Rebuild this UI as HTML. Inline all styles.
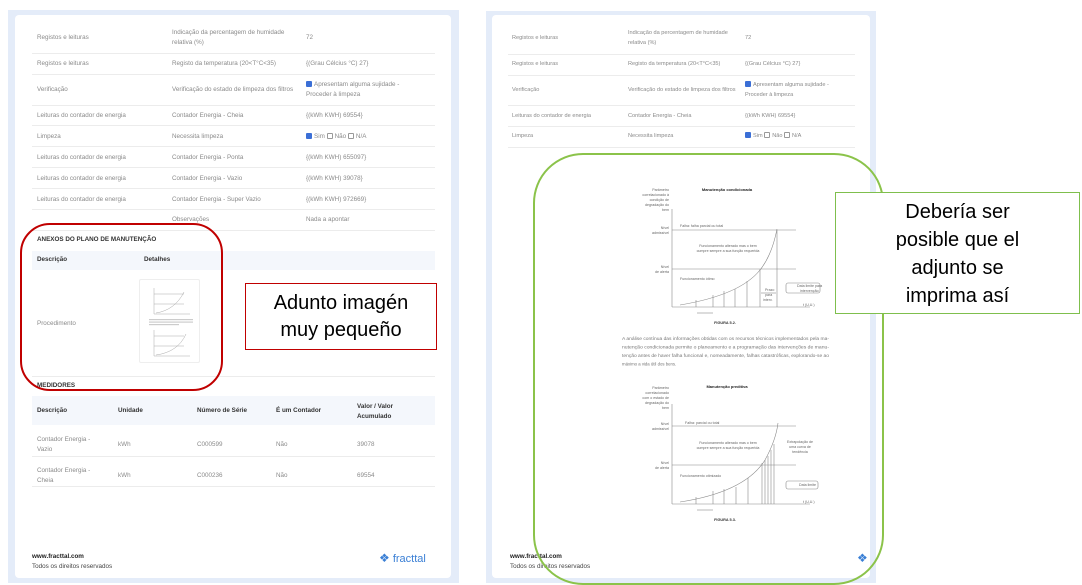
<!DOCTYPE html>
<html><head><meta charset="utf-8"><style>
*{margin:0;padding:0;box-sizing:border-box}
body{width:1082px;height:585px;background:#fff;position:relative;overflow:hidden;font-family:"Liberation Sans",Arial,sans-serif}
.abs{position:absolute}
.outer{position:absolute;background:#e4ecf9}
.inner{position:absolute;background:#fff;border-radius:4px}
.t{position:absolute;font-size:6.3px;color:#8a8a8a;line-height:9.5px;white-space:nowrap}
.r .t{font-size:5.6px}
.hr{position:absolute;height:1px;background:#ececec}
.b{position:absolute;font-size:6.3px;color:#333;font-weight:bold;white-space:nowrap}
.cb{display:inline-block;width:6px;height:6px;border:1px solid #999;vertical-align:-1px;margin-right:2px;border-radius:1px}
.cb.on{background:#3b6fd6;border-color:#3b6fd6}
</style></head><body>

<!-- LEFT PANEL -->
<div class="outer" style="left:8px;top:10px;width:451px;height:573px"></div>
<div class="inner" style="left:15px;top:15px;width:436px;height:563px"></div>

<div class="t" style="left:37px;top:33px">Registos e leituras</div>
<div class="t" style="left:172px;top:28px">Indicação da percentagem de humidade<br>relativa (%)</div>
<div class="t" style="left:306px;top:33px">72</div>
<div class="hr" style="left:32px;top:53px;width:403px"></div>
<div class="t" style="left:37px;top:59px">Registos e leituras</div>
<div class="t" style="left:172px;top:59px">Registo da temperatura (20&lt;T°C&lt;35)</div>
<div class="t" style="left:306px;top:59px">{(Grau Célcius °C) 27}</div>
<div class="hr" style="left:32px;top:74px;width:403px"></div>
<div class="t" style="left:37px;top:85px">Verificação</div>
<div class="t" style="left:172px;top:85px">Verificação do estado de limpeza dos filtros</div>
<div class="t" style="left:306px;top:80px"><span class="cb on"></span>Apresentam alguma sujidade -<br>Proceder à limpeza</div>
<div class="hr" style="left:32px;top:105px;width:403px"></div>
<div class="t" style="left:37px;top:111px">Leituras do contador de energia</div>
<div class="t" style="left:172px;top:111px">Contador Energia - Cheia</div>
<div class="t" style="left:306px;top:111px">{(kWh KWH) 69554}</div>
<div class="hr" style="left:32px;top:125px;width:403px"></div>
<div class="t" style="left:37px;top:132px">Limpeza</div>
<div class="t" style="left:172px;top:132px">Necessita limpeza</div>
<div class="t" style="left:306px;top:132px"><span class="cb on"></span>Sim <span class="cb"></span>Não <span class="cb"></span>N/A</div>
<div class="hr" style="left:32px;top:146px;width:403px"></div>
<div class="t" style="left:37px;top:153px">Leituras do contador de energia</div>
<div class="t" style="left:172px;top:153px">Contador Energia - Ponta</div>
<div class="t" style="left:306px;top:153px">{(kWh KWH) 655097}</div>
<div class="hr" style="left:32px;top:167px;width:403px"></div>
<div class="t" style="left:37px;top:174px">Leituras do contador de energia</div>
<div class="t" style="left:172px;top:174px">Contador Energia - Vazio</div>
<div class="t" style="left:306px;top:174px">{(kWh KWH) 39078}</div>
<div class="hr" style="left:32px;top:188px;width:403px"></div>
<div class="t" style="left:37px;top:195px">Leituras do contador de energia</div>
<div class="t" style="left:172px;top:195px">Contador Energia - Super Vazio</div>
<div class="t" style="left:306px;top:195px">{(kWh KWH) 972669}</div>
<div class="hr" style="left:32px;top:209px;width:403px"></div>
<div class="t" style="left:172px;top:215px">Observações</div>
<div class="t" style="left:306px;top:215px">Nada a apontar</div>
<div class="hr" style="left:32px;top:230px;width:403px"></div>

<div class="b" style="left:37px;top:236px">ANEXOS DO PLANO DE MANUTENÇÃO</div>
<div class="abs" style="left:32px;top:251px;width:403px;height:19px;background:#f4f7fc"></div>
<div class="b" style="left:37px;top:256px">Descrição</div>
<div class="b" style="left:144px;top:256px">Detalhes</div>
<div class="t" style="left:37px;top:319px">Procedimento</div>
<div class="abs" style="left:139px;top:279px;width:61px;height:84px;border:1px solid #eee;border-radius:2px;background:#fff">
<svg width="61" height="84" viewBox="0 0 61 84"><g stroke="#aaa" stroke-width="0.5" fill="none">
<line x1="14" y1="8" x2="14" y2="34"/><line x1="14" y1="34" x2="50" y2="34"/><path d="M16 33 Q35 30 44 12"/><line x1="14" y1="14" x2="44" y2="14"/><line x1="14" y1="24" x2="44" y2="24"/>
<line x1="14" y1="50" x2="14" y2="76"/><line x1="14" y1="76" x2="50" y2="76"/><path d="M16 75 Q38 72 46 54"/><line x1="14" y1="56" x2="44" y2="56"/><line x1="14" y1="66" x2="44" y2="66"/>
</g><g fill="#ccc"><rect x="9" y="39" width="44" height="1.2"/><rect x="9" y="41.5" width="44" height="1.2"/><rect x="9" y="44" width="30" height="1.2"/></g></svg></div>
<div class="hr" style="left:32px;top:376px;width:403px"></div>

<div class="b" style="left:37px;top:382px">MEDIDORES</div>
<div class="abs" style="left:32px;top:396px;width:403px;height:29px;background:#f4f7fc"></div>
<div class="b" style="left:37px;top:407px">Descrição</div>
<div class="b" style="left:118px;top:407px">Unidade</div>
<div class="b" style="left:197px;top:407px">Número de Série</div>
<div class="b" style="left:276px;top:407px">É um Contador</div>
<div class="b" style="left:357px;top:402px;line-height:9.5px">Valor / Valor<br>Acumulado</div>
<div class="t" style="left:37px;top:435px">Contador Energia -<br>Vazio</div>
<div class="t" style="left:118px;top:440px">kWh</div>
<div class="t" style="left:197px;top:440px">C000599</div>
<div class="t" style="left:276px;top:440px">Não</div>
<div class="t" style="left:357px;top:440px">39078</div>
<div class="hr" style="left:32px;top:456px;width:403px"></div>
<div class="t" style="left:37px;top:466px">Contador Energia -<br>Cheia</div>
<div class="t" style="left:118px;top:471px">kWh</div>
<div class="t" style="left:197px;top:471px">C000236</div>
<div class="t" style="left:276px;top:471px">Não</div>
<div class="t" style="left:357px;top:471px">69554</div>
<div class="hr" style="left:32px;top:486px;width:403px"></div>

<div class="b" style="left:32px;top:553px;color:#222">www.fracttal.com</div>
<div class="t" style="left:32px;top:562px;color:#444">Todos os direitos reservados</div>
<div class="abs" style="left:379px;top:551px;font-size:11px;color:#3a7fd5;white-space:nowrap"><span style="font-size:12px">❖</span> fracttal</div>

<!-- red annotations -->
<div class="abs" style="left:20px;top:223px;width:203px;height:168px;border:2px solid #c00000;border-radius:30px"></div>
<div class="abs" style="left:245px;top:283px;width:192px;height:67px;border:1px solid #c00000;background:#fff;font-family:'Liberation Sans',sans-serif;font-size:20px;line-height:27px;text-align:center;padding-top:6px;color:#000">Adunto imagén<br>muy pequeño</div>

<!-- RIGHT PANEL -->
<div class="outer" style="left:486px;top:11px;width:390px;height:572px"></div>
<div class="inner" style="left:492px;top:15px;width:378px;height:563px"></div>

<div class="r">
<div class="t" style="left:512px;top:34px">Registos e leituras</div>
<div class="t" style="left:628px;top:29px">Indicação da percentagem de humidade<br>relativa (%)</div>
<div class="t" style="left:745px;top:34px">72</div>
<div class="hr" style="left:508px;top:54px;width:347px"></div>
<div class="t" style="left:512px;top:60px">Registos e leituras</div>
<div class="t" style="left:628px;top:60px">Registo da temperatura (20&lt;T°C&lt;35)</div>
<div class="t" style="left:745px;top:60px">{(Grau Célcius °C) 27}</div>
<div class="hr" style="left:508px;top:75px;width:347px"></div>
<div class="t" style="left:512px;top:86px">Verificação</div>
<div class="t" style="left:628px;top:86px">Verificação do estado de limpeza dos filtros</div>
<div class="t" style="left:745px;top:81px"><span class="cb on"></span>Apresentam alguma sujidade -<br>Proceder à limpeza</div>
<div class="hr" style="left:508px;top:105px;width:347px"></div>
<div class="t" style="left:512px;top:112px">Leituras do contador de energia</div>
<div class="t" style="left:628px;top:112px">Contador Energia - Cheia</div>
<div class="t" style="left:745px;top:112px">{(kWh KWH) 69554}</div>
<div class="hr" style="left:508px;top:126px;width:347px"></div>
<div class="t" style="left:512px;top:132px">Limpeza</div>
<div class="t" style="left:628px;top:132px">Necessita limpeza</div>
<div class="t" style="left:745px;top:132px"><span class="cb on"></span>Sim <span class="cb"></span>Não <span class="cb"></span>N/A</div>
<div class="hr" style="left:508px;top:147px;width:347px"></div>
</div>

<svg class="abs" style="left:0;top:0" width="1082" height="585" viewBox="0 0 1082 585">
<g font-family="Liberation Sans, sans-serif" fill="#666" font-size="3.6">
<!-- chart 1 -->
<text x="727" y="191" text-anchor="middle" font-weight="bold" fill="#222" font-size="4">Manutenção condicionada</text>
<text x="669" y="191" text-anchor="end">Parâmetro</text><text x="669" y="196" text-anchor="end">correlacionado à</text><text x="669" y="201" text-anchor="end">condição de</text><text x="669" y="206" text-anchor="end">degradação do</text><text x="669" y="211" text-anchor="end">bem</text>
<text x="669" y="229" text-anchor="end">Nível</text><text x="669" y="234" text-anchor="end">admissível</text>
<text x="669" y="268" text-anchor="end">Nível</text><text x="669" y="273" text-anchor="end">de alerta</text>
<text x="680" y="227">Falha: falha parcial ou total</text>
<text x="728" y="247" text-anchor="middle">Funcionamento alterado mas o bem</text><text x="728" y="252" text-anchor="middle">cumpre sempre a sua função requerida</text>
<text x="680" y="280">Funcionamento ótimo</text>
<text x="803" y="306">t (U.U.)</text>
<text x="797" y="287">Data limite para</text><text x="800" y="292">intervenção</text>
<text x="765" y="291">Prazo</text><text x="765" y="296">para</text><text x="763" y="301">interv.</text>
<text x="725" y="324" text-anchor="middle" font-weight="bold" fill="#333" font-size="3.8">FIGURA 5.2.</text>
<g stroke="#888" stroke-width="0.6" fill="none">
<line x1="672" y1="209" x2="672" y2="307"/><line x1="672" y1="307" x2="810" y2="307"/>
<line x1="672" y1="230" x2="796" y2="230"/><line x1="672" y1="269" x2="796" y2="269"/>
<path d="M680 305 Q740 295 760 270 Q772 255 777 229"/>
<line x1="696" y1="300" x2="696" y2="307"/><line x1="713" y1="295" x2="713" y2="307"/><line x1="724" y1="291" x2="724" y2="307"/><line x1="735" y1="289" x2="735" y2="307"/><line x1="747" y1="281" x2="747" y2="307"/><line x1="760" y1="269" x2="760" y2="307"/><line x1="777" y1="230" x2="777" y2="307"/>
<line x1="697" y1="313" x2="713" y2="313"/><line x1="761" y1="293" x2="776" y2="293"/>
<rect x="786" y="283" width="34" height="10" rx="2"/>
</g>
<!-- paragraph -->
<g font-size="4.3" fill="#777">
<text x="622" y="340" textLength="207" lengthAdjust="spacingAndGlyphs">A análise contínua das informações obtidas com os recursos técnicos implementados pela ma-</text>
<text x="622" y="348.5" textLength="207" lengthAdjust="spacingAndGlyphs">nutenção condicionada permite o planeamento e a programação das intervenções de manu-</text>
<text x="622" y="357" textLength="207" lengthAdjust="spacingAndGlyphs">tenção antes de haver falha funcional e, nomeadamente, falhas catastróficas, explorando-se ao</text>
<text x="622" y="365.5">máximo a vida útil dos bens.</text>
</g>
<!-- chart 2 -->
<text x="727" y="388" text-anchor="middle" font-weight="bold" fill="#222" font-size="4">Manutenção preditiva</text>
<text x="669" y="389" text-anchor="end">Parâmetro</text><text x="669" y="394" text-anchor="end">correlacionado</text><text x="669" y="399" text-anchor="end">com o estado de</text><text x="669" y="404" text-anchor="end">degradação do</text><text x="669" y="409" text-anchor="end">bem</text>
<text x="669" y="425" text-anchor="end">Nível</text><text x="669" y="430" text-anchor="end">admissível</text>
<text x="669" y="464" text-anchor="end">Nível</text><text x="669" y="469" text-anchor="end">de alerta</text>
<text x="685" y="424">Falha: parcial ou total</text>
<text x="728" y="444" text-anchor="middle">Funcionamento alterado mas o bem</text><text x="728" y="449" text-anchor="middle">cumpre sempre a sua função requerida</text>
<text x="680" y="477">Funcionamento otimizado</text>
<text x="800" y="443" text-anchor="middle">Extrapolação de</text><text x="800" y="448" text-anchor="middle">uma curva de</text><text x="800" y="453" text-anchor="middle">tendência</text>
<text x="803" y="503">t (U.U.)</text>
<text x="799" y="486">Data limite</text>
<text x="725" y="521" text-anchor="middle" font-weight="bold" fill="#333" font-size="3.8">FIGURA 5.3.</text>
<g stroke="#888" stroke-width="0.6" fill="none">
<line x1="672" y1="404" x2="672" y2="504"/><line x1="672" y1="504" x2="810" y2="504"/>
<line x1="672" y1="426" x2="796" y2="426"/><line x1="672" y1="465" x2="796" y2="465"/>
<path d="M680 502 Q745 492 765 460 Q776 440 778 423"/>
<line x1="696" y1="497" x2="696" y2="504"/><line x1="713" y1="491" x2="713" y2="504"/><line x1="724" y1="489" x2="724" y2="504"/><line x1="736" y1="487" x2="736" y2="504"/><line x1="748" y1="478" x2="748" y2="504"/><line x1="762" y1="463" x2="762" y2="504"/><line x1="765" y1="460" x2="765" y2="504"/><line x1="768" y1="456" x2="768" y2="504"/><line x1="771" y1="450" x2="771" y2="504"/><line x1="774" y1="444" x2="774" y2="504"/>
<line x1="697" y1="510" x2="713" y2="510"/>
<rect x="786" y="481" width="32" height="8" rx="2"/>
</g>
</g>
</svg>

<div class="b" style="left:510px;top:553px;color:#222">www.fracttal.com</div>
<div class="t" style="left:510px;top:562px;color:#444">Todos os direitos reservados</div>
<div class="abs" style="left:857px;top:551px;font-size:11px;color:#3a7fd5;white-space:nowrap;width:13px;overflow:hidden"><span style="font-size:12px">❖</span></div>

<!-- green annotations -->
<div class="abs" style="left:533px;top:153px;width:351px;height:432px;border:2px solid #8bc34a;border-radius:50px"></div>
<div class="abs" style="left:835px;top:192px;width:245px;height:122px;border:1px solid #7fbf4d;background:#fff;font-size:20px;line-height:28px;text-align:center;padding-top:5px;color:#000">Debería ser<br>posible que el<br>adjunto se<br>imprima así</div>

</body></html>
